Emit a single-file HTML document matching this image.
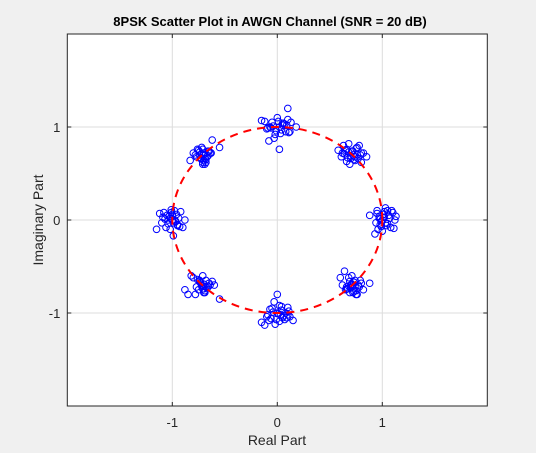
<!DOCTYPE html>
<html><head><meta charset="utf-8"><style>
body{margin:0;background:#f0f0f0;}
svg{display:block;font-family:"Liberation Sans",sans-serif;}
</style></head><body>
<svg width="536" height="453">
<rect x="0" y="0" width="536" height="453" fill="#f0f0f0"/>
<rect x="67.3" y="34" width="420" height="372" fill="#fff"/>
<g id="grid"></g>
<g id="pts"></g>
<path id="circle" fill="none" stroke="#ff0000" stroke-width="2" stroke-dasharray="8,6"/>
<rect x="67.3" y="34" width="420" height="372" fill="none" stroke="#262626" stroke-width="1"/>
<g id="ticks"></g>
<text x="270" y="26" text-anchor="middle" font-size="13" font-weight="bold" fill="#000">8PSK Scatter Plot in AWGN Channel (SNR = 20 dB)</text>
<text x="277" y="445" text-anchor="middle" font-size="14" fill="#262626">Real Part</text>
<text transform="translate(43,220) rotate(-90)" text-anchor="middle" font-size="14" fill="#262626">Imaginary Part</text>
</svg>
<script>
const xTicks=[-1,0,1];
const yTicks=[-1,0,1];
const tickLabels=["-1","0","1"];
const re=[
 1.02,0.98,1.05,1.1,0.95,1.0,1.08,0.97,1.12,1.03,0.93,1.06,0.99,1.01,0.96,1.13,0.88,1.04,1.09,0.94,
 1.0,0.97,1.03,1.07,0.99,1.11,0.95,1.02,1.05,0.98,
 0.72,0.65,0.78,0.7,0.62,0.8,0.74,0.68,0.85,0.76,0.66,0.71,0.58,0.79,0.73,0.63,0.82,0.69,0.75,0.67,
 0.7,0.64,0.77,0.72,0.66,0.8,0.74,0.61,0.68,0.76,
 0.02,-0.05,0.08,0.1,-0.1,0.0,0.05,-0.02,0.11,-0.08,0.18,-0.15,0.03,0.06,-0.03,0.1,0.02,-0.06,0.13,-0.12,
 -0.04,0.04,0.07,-0.01,0.09,-0.07,0.01,0.12,-0.09,0.05,
 -0.7,-0.75,-0.68,-0.72,-0.64,-0.77,-0.71,-0.66,-0.8,-0.73,-0.55,-0.69,-0.62,-0.74,-0.7,-0.83,-0.67,-0.76,-0.63,-0.71,
 -0.72,-0.69,-0.74,-0.66,-0.71,-0.78,-0.68,-0.73,-0.65,-0.7,
 -1.0,-1.05,-0.95,-1.08,-0.98,-1.1,-0.92,-1.02,-0.97,-1.15,-0.88,-1.03,-0.99,-1.06,-0.94,-1.01,-1.12,-0.96,-1.04,-0.9,
 -1.02,-0.99,-1.07,-0.95,-1.0,-1.04,-0.97,-1.09,-0.93,-1.01,
 -0.72,-0.68,-0.75,-0.7,-0.8,-0.66,-0.73,-0.85,-0.62,-0.77,-0.71,-0.88,-0.6,-0.74,-0.69,-0.82,-0.55,-0.7,-0.78,-0.65,
 -0.7,-0.67,-0.74,-0.72,-0.69,-0.76,-0.64,-0.71,-0.73,-0.68,
 0.0,-0.05,0.05,0.1,-0.08,0.02,0.12,-0.03,0.07,-0.15,0.15,-0.1,0.04,-0.02,0.08,-0.06,0.0,0.1,-0.12,0.03,
 -0.04,0.06,0.01,-0.07,0.09,-0.01,0.04,-0.09,0.11,0.02,
 0.7,0.74,0.65,0.78,0.68,0.72,0.62,0.8,0.75,0.67,0.88,0.6,0.71,0.77,0.73,0.66,0.69,0.82,0.64,0.76,
 0.7,0.73,0.68,0.75,0.71,0.66,0.79,0.72,0.69,0.74];
const im=[
 0.03,-0.05,0.1,0.08,0.1,-0.12,-0.08,0.02,0.0,0.13,-0.15,0.05,-0.02,0.06,-0.1,0.04,0.05,-0.06,0.1,-0.03,
 0.0,0.04,-0.03,0.02,-0.07,-0.09,0.07,0.09,-0.04,0.01,
 0.7,0.75,0.8,0.66,0.72,0.62,0.68,0.82,0.68,0.78,0.63,0.74,0.75,0.7,0.65,0.8,0.72,0.6,0.77,0.67,
 0.69,0.71,0.66,0.74,0.76,0.72,0.64,0.68,0.73,0.7,
 1.0,1.05,0.95,1.08,0.98,1.1,1.02,0.92,0.94,0.85,1.0,1.07,0.93,1.04,0.88,1.2,0.76,0.99,1.05,1.06,
 1.01,0.97,1.03,0.96,1.02,1.0,1.06,0.95,0.99,1.04,
 0.7,0.75,0.65,0.78,0.72,0.68,0.62,0.74,0.72,0.66,0.78,0.6,0.86,0.7,0.64,0.64,0.68,0.76,0.72,0.6,
 0.71,0.66,0.73,0.69,0.76,0.7,0.62,0.67,0.74,0.72,
 0.0,0.05,-0.05,0.08,0.1,-0.03,0.09,-0.1,-0.02,-0.1,0.0,0.04,-0.17,-0.08,0.02,0.11,0.07,0.06,-0.04,-0.08,
 0.02,-0.03,0.01,-0.06,0.06,0.0,-0.01,0.03,-0.07,0.08,
 -0.7,-0.65,-0.75,-0.78,-0.62,-0.72,-0.68,-0.8,-0.66,-0.72,-0.6,-0.75,-0.7,-0.65,-0.78,-0.6,-0.85,-0.74,-0.8,-0.68,
 -0.69,-0.73,-0.66,-0.71,-0.76,-0.64,-0.7,-0.74,-0.67,-0.72,
 -1.0,-0.95,-1.05,-1.02,-1.08,-0.92,-1.04,-0.88,-1.07,-1.1,-1.08,-1.04,-0.97,-1.12,-1.0,-1.06,-0.8,-0.94,-1.13,-1.02,
 -0.99,-1.03,-1.01,-0.96,-1.05,-1.07,-0.93,-1.02,-0.98,-1.09,
 -0.7,-0.65,-0.75,-0.72,-0.62,-0.78,-0.7,-0.68,-0.8,-0.74,-0.68,-0.62,-0.6,-0.7,-0.77,-0.72,-0.66,-0.75,-0.55,-0.8,
 -0.73,-0.67,-0.71,-0.76,-0.69,-0.74,-0.65,-0.7,-0.78,-0.72];
const NS="http://www.w3.org/2000/svg";
const X0=67.3,X1=487.3,Y0=34,Y1=406;
const sx=v=>X0+(v+2)/4*(X1-X0);
const sy=v=>Y1-(v+2)/4*(Y1-Y0);
function mk(t,a,p){const e=document.createElementNS(NS,t);for(const k in a)e.setAttribute(k,a[k]);p.appendChild(e);return e;}
const grid=document.getElementById('grid'),ticks=document.getElementById('ticks'),pts=document.getElementById('pts');
xTicks.forEach((v,i)=>{
 const l=mk('line',{x1:sx(v),x2:sx(v),y1:Y0,y2:Y1,stroke:'#dcdcdc','stroke-width':1},grid);
 
 
 mk('line',{x1:sx(v),x2:sx(v),y1:Y1,y2:Y1-4,stroke:'#262626'},ticks);
 mk('line',{x1:sx(v),x2:sx(v),y1:Y0,y2:Y0+4,stroke:'#262626'},ticks);
 const t=mk('text',{x:sx(v),y:Y1+21,'text-anchor':'middle','font-size':13,fill:'#262626'},ticks);
 t.textContent=tickLabels[i];
 
 
});
yTicks.forEach((v,i)=>{
 const l=mk('line',{x1:X0,x2:X1,y1:sy(v),y2:sy(v),stroke:'#dcdcdc','stroke-width':1},grid);
 
 
 mk('line',{x1:X0,x2:X0+4,y1:sy(v),y2:sy(v),stroke:'#262626'},ticks);
 mk('line',{x1:X1,x2:X1-4,y1:sy(v),y2:sy(v),stroke:'#262626'},ticks);
 const t=mk('text',{x:X0-7,y:sy(v)+5,'text-anchor':'end','font-size':13,fill:'#262626'},ticks);
 t.textContent=tickLabels[i];
 
 
});
document.getElementById('circle').setAttribute('d',`M ${sx(1)} ${sy(0)} A ${sx(1)-sx(0)} ${sy(0)-sy(1)} 0 1 0 ${sx(-1)} ${sy(0)} A ${sx(1)-sx(0)} ${sy(0)-sy(1)} 0 1 0 ${sx(1)} ${sy(0)}`);
re.forEach((r,i)=>{
 const c=mk('circle',{cx:sx(r),cy:sy(im[i]),r:3.3,fill:'none',stroke:'#0000ff','stroke-width':1},pts);
 
 
});
</script>
</body></html>
